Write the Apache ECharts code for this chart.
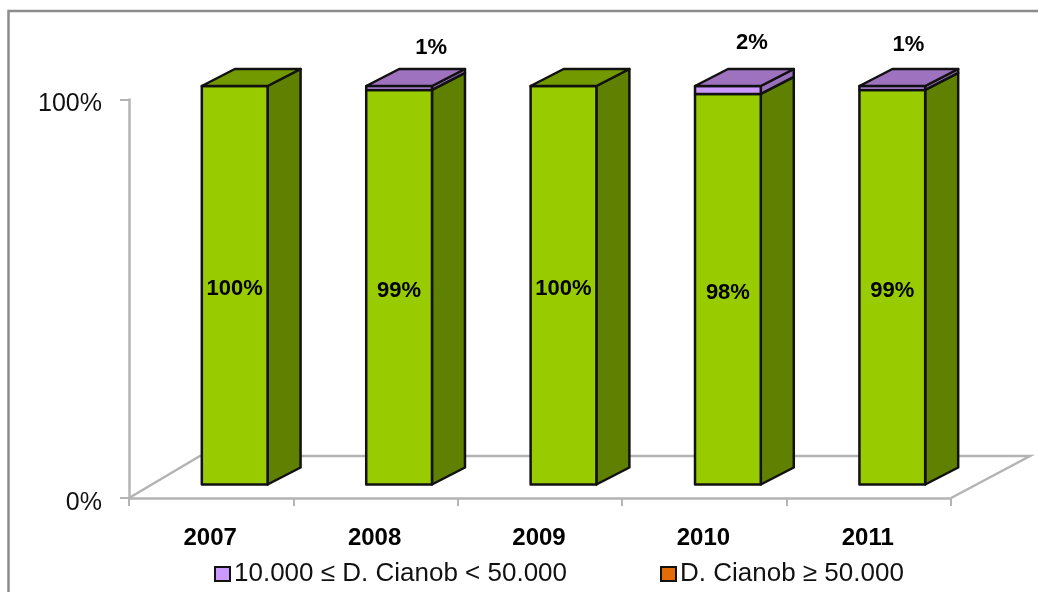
<!DOCTYPE html>
<html>
<head>
<meta charset="utf-8">
<style>html,body{margin:0;padding:0;background:#fff}#chart{width:1038px;height:592px}</style>
<script src="https://cdn.jsdelivr.net/npm/echarts@6/dist/echarts.min.js"></script>
</head>
<body>
<div id="chart"></div>
<script>
// Categories and stacked shares, in percent
const years = ['2007', '2008', '2009', '2010', '2011'];
const lowShare = [100, 99, 100, 98, 99];
const midShare = [0, 1, 0, 2, 1];
const highShare = [0, 0, 0, 0, 0];
const midName = '10.000 ≤ D. Cianob < 50.000';
const highName = 'D. Cianob ≥ 50.000';
const yTicks = [0, 100];

// Hand-placed offsets for the small share labels above the columns
const midLabelShift = [[0, 0], [32, -44], [0, 0], [24, -51], [16, -47]];

// Oblique projection of the 3D look
const FLOOR_DEPTH = [79, -42];
const BAR_FRONT = [23.5, -13.5];
const BAR_DEPTH = [33, -17];
const BAR_WIDTH_RATIO = 0.4;

const EDGE = '#111';
const FONT = '"Liberation Sans", Arial, sans-serif';

const palette = {
  low: { front: '#99CC00', side: '#5F8000', top: '#739900' },
  mid: { front: '#CC99FF', side: '#9A70BC', top: '#9E72BF' },
  high: { front: '#E36C09', side: '#A85008', top: '#C05C08' }
};

function quad(points, fill) {
  return {
    type: 'polygon',
    shape: { points },
    style: { fill, stroke: EDGE, lineWidth: 2.5, lineJoin: 'round' }
  };
}

function stackItems(values, below) {
  return values.map((v, i) => {
    const start = below.reduce((sum, arr) => sum + arr[i], 0);
    return [i, start, start + v, v];
  });
}

// Draws one stack segment: front, side and, on the topmost one, the lid
function segmentRenderer(colors, labelShift) {
  return function (params, api) {
    const i = api.value(0);
    const start = api.value(1);
    const end = api.value(2);
    const value = api.value(3);
    if (value <= 0) return { type: 'group', children: [] };

    const band = api.size([1, 0])[0];
    const half = band * BAR_WIDTH_RATIO / 2;
    const bottom = api.coord([i, start]);
    const top = api.coord([i, end]);
    const x0 = bottom[0] + BAR_FRONT[0] - half;
    const x1 = bottom[0] + BAR_FRONT[0] + half;
    const yB = bottom[1] + BAR_FRONT[1];
    const yT = top[1] + BAR_FRONT[1];
    const dx = BAR_DEPTH[0];
    const dy = BAR_DEPTH[1];
    const isTop = end >= 99.99;

    const children = [
      quad([[x1, yT], [x1 + dx, yT + dy], [x1 + dx, yB + dy], [x1, yB]], colors.side),
      quad([[x0, yT], [x1, yT], [x1, yB], [x0, yB]], colors.front)
    ];
    if (isTop) {
      children.push(quad([[x0, yT], [x0 + dx, yT + dy], [x1 + dx, yT + dy], [x1, yT]], colors.top));
    }
    const shift = labelShift ? labelShift[i] : [0, 0];
    children.push({
      type: 'text',
      style: {
        text: value + '%',
        x: (x0 + x1) / 2 + shift[0],
        y: (yT + yB) / 2 + shift[1] + 4,
        align: 'center',
        verticalAlign: 'middle',
        font: 'bold 22px ' + FONT,
        fill: '#000'
      },
      z2: 10
    });
    return { type: 'group', children };
  };
}

// Chart floor behind the columns
function floorRenderer(params, api) {
  const band = api.size([1, 0])[0];
  const left = api.coord([0, 0]);
  const right = api.coord([years.length - 1, 0]);
  const x0 = left[0] - band / 2;
  const x1 = right[0] + band / 2;
  const y = left[1];
  return {
    type: 'polyline',
    shape: {
      points: [
        [x0, y],
        [x0 + FLOOR_DEPTH[0] - 8, y + FLOOR_DEPTH[1]],
        [x1 + FLOOR_DEPTH[0], y + FLOOR_DEPTH[1]],
        [x1, y]
      ]
    },
    style: { fill: null, stroke: '#B4B4B4', lineWidth: 2.5 }
  };
}

const chart = echarts.init(document.getElementById('chart'), null, { renderer: 'canvas' });
chart.setOption({
  animation: false,
  backgroundColor: '#fff',
  textStyle: { fontFamily: FONT },
  grid: { left: 129, right: 87, top: 99.5, bottom: 94, containLabel: false },
  xAxis: {
    type: 'category',
    data: years,
    axisLine: { lineStyle: { color: '#B4B4B4', width: 2.5 } },
    axisTick: { show: true, alignWithLabel: false, length: 8, lineStyle: { color: '#B4B4B4', width: 2 } },
    axisLabel: { color: '#000', fontWeight: 'bold', fontSize: 24, fontFamily: FONT, margin: 28, padding: [0, 2, 0, 0] }
  },
  yAxis: {
    type: 'value',
    min: yTicks[0],
    max: yTicks[1],
    interval: yTicks[1],
    splitLine: { show: false },
    axisLine: { show: true, lineStyle: { color: '#B4B4B4', width: 2.5 } },
    axisTick: { show: true, length: 9, lineStyle: { color: '#B4B4B4', width: 2 } },
    axisLabel: { color: '#111', fontSize: 25, fontFamily: FONT, margin: 27, verticalAlign: 'top', lineHeight: 10, formatter: '{value}%' }
  },
  legend: {
    data: [midName, highName],
    left: 209,
    top: 556,
    itemWidth: 15,
    itemHeight: 14,
    itemGap: 93,
    textStyle: { color: '#111', fontSize: 26, fontFamily: FONT, padding: [5, 0, 0, -1] },
    selectedMode: false,
    icon: 'rect'
  },
  graphic: [{
    type: 'polyline',
    silent: true,
    z: -1,
    shape: { points: [[8.5, 592], [8.5, 11], [1038, 11]] },
    style: { fill: null, stroke: '#8C8C8C', lineWidth: 2.5 }
  }],
  series: [
    {
      type: 'custom',
      name: 'floor',
      silent: true,
      z: 1,
      renderItem: floorRenderer,
      data: [[0, 0]],
      encode: { x: 0, y: 1 }
    },
    {
      type: 'custom',
      name: 'low',
      z: 2,
      renderItem: segmentRenderer(palette.low),
      itemStyle: { color: palette.low.front },
      data: stackItems(lowShare, []),
      encode: { x: 0, y: [1, 2] }
    },
    {
      type: 'custom',
      name: midName,
      z: 3,
      renderItem: segmentRenderer(palette.mid, midLabelShift),
      itemStyle: { color: palette.mid.front, borderColor: EDGE, borderWidth: 2 },
      data: stackItems(midShare, [lowShare]),
      encode: { x: 0, y: [1, 2] }
    },
    {
      type: 'custom',
      name: highName,
      z: 4,
      renderItem: segmentRenderer(palette.high),
      itemStyle: { color: palette.high.front, borderColor: EDGE, borderWidth: 2 },
      data: stackItems(highShare, [lowShare, midShare]),
      encode: { x: 0, y: [1, 2] }
    }
  ]
});
</script>
</body>
</html>
